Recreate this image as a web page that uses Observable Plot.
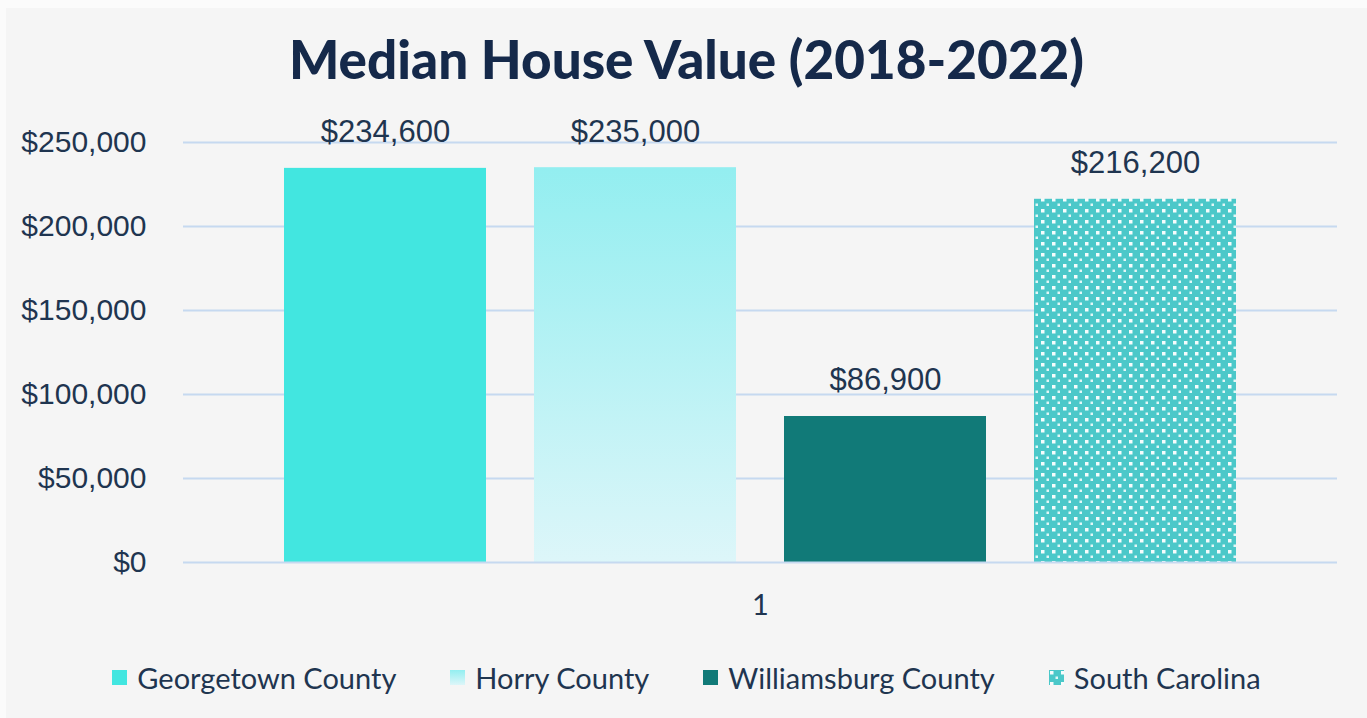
<!DOCTYPE html>
<html><head><meta charset="utf-8">
<script src="https://cdn.jsdelivr.net/npm/d3@7"></script>
<script src="https://cdn.jsdelivr.net/npm/@observablehq/plot@0.6"></script>
<style>
body{margin:0;background:#fbfbfb;width:1367px;height:718px;overflow:hidden;position:relative}
#wrap{position:absolute;left:6px;top:8px;width:1361px;height:710px;background:#f5f5f5}
#title{position:absolute;left:0;width:1361px;top:19px;text-align:center;font-family:Lato;font-weight:900;font-size:53px;color:#15294a;white-space:nowrap}
#chart{position:absolute;left:0;top:112px}
#legend{position:absolute;left:0;width:1361px;top:652px;display:flex;justify-content:center;gap:54px;font-family:Lato;font-size:29px;color:#1f3550}
.item{display:flex;align-items:center}
.item svg{margin-right:10px}
</style></head>
<body><div id="wrap"><div id="title">Median House Value (2018-2022)</div><div id="chart"></div><div id="legend"></div></div>
<script>
const series = ["Georgetown County", "Horry County", "Williamsburg County", "South Carolina"];
const values = [234600, 235000, 86900, 216200];
const groups = ["1", "1", "1", "1"];
const colors = ["#42e6e0", "url(#horryGrad)", "#117a78", "url(#scPattern)"];
const yTicks = [0, 50000, 100000, 150000, 200000, 250000];

const data = series.map((s, i) => ({series: s, value: values[i], group: groups[i]}));
const fmt = d3.format("$,");
const textColor = "#1f3550";
const gridColor = "#c6d9f0";

const plot = Plot.plot({
  width: 1361, height: 520,
  marginLeft: 177, marginRight: 30, marginTop: 22, marginBottom: 78,
  style: {background: "transparent", fontFamily: "Liberation Sans", fontSize: "30px", color: textColor, overflow: "visible"},
  fx: {domain: ["1"], padding: 0, label: null},
  x: {domain: series, paddingInner: 0.194, paddingOuter: 0.4, axis: null},
  y: {domain: [0, 250000], label: null},
  color: {domain: series, range: colors},
  marks: [
    Plot.ruleY(yTicks.filter(d => d > 0), {stroke: gridColor, strokeWidth: 2}),
    Plot.barY(data, {fx: "group", x: "series", y: "value", fill: "series"}),
    Plot.ruleY([0], {stroke: gridColor, strokeWidth: 2}),
    Plot.text(data, {fx: "group", x: "series", y: "value", text: d => fmt(d.value), dy: -36, fontSize: 31, fill: textColor}),
    Plot.axisY({ticks: yTicks, tickFormat: fmt, tickSize: 0, tickPadding: 37, label: null, fontSize: 30, fill: textColor}),
    Plot.axisFx({anchor: "bottom", tickSize: 0, tickPadding: 32, label: null, fontSize: 29, fill: textColor, fontFamily: "Lato"})
  ]
});

const svg = d3.select(plot);
const defs = svg.insert("defs", ":first-child");
const grad = defs.append("linearGradient").attr("id", "horryGrad").attr("x1", 0).attr("y1", 0).attr("x2", 0).attr("y2", 1);
grad.append("stop").attr("offset", "0%").attr("stop-color", "#93eef0");
grad.append("stop").attr("offset", "100%").attr("stop-color", "#ddf6f9");
const pat = defs.append("pattern").attr("id", "scPattern").attr("patternUnits", "userSpaceOnUse").attr("width", 11).attr("height", 11);
pat.append("rect").attr("width", 11).attr("height", 11).attr("fill", "#4bc8c9");
pat.append("rect").attr("x", 1).attr("y", 1).attr("width", 3.5).attr("height", 3.5).attr("fill", "#ffffff").attr("opacity", 0.95);
pat.append("rect").attr("x", 6.5).attr("y", 6.5).attr("width", 2.5).attr("height", 2.5).attr("fill", "#ffffff").attr("opacity", 0.85);

document.getElementById("chart").appendChild(plot);

const legend = d3.select("#legend");
series.forEach((s, i) => {
  const item = legend.append("div").attr("class", "item");
  const sw = item.append("svg").attr("width", 15).attr("height", 15);
  sw.append("rect").attr("width", 15).attr("height", 15).attr("fill", colors[i]);
  item.append("span").text(s);
});
</script></body></html>
